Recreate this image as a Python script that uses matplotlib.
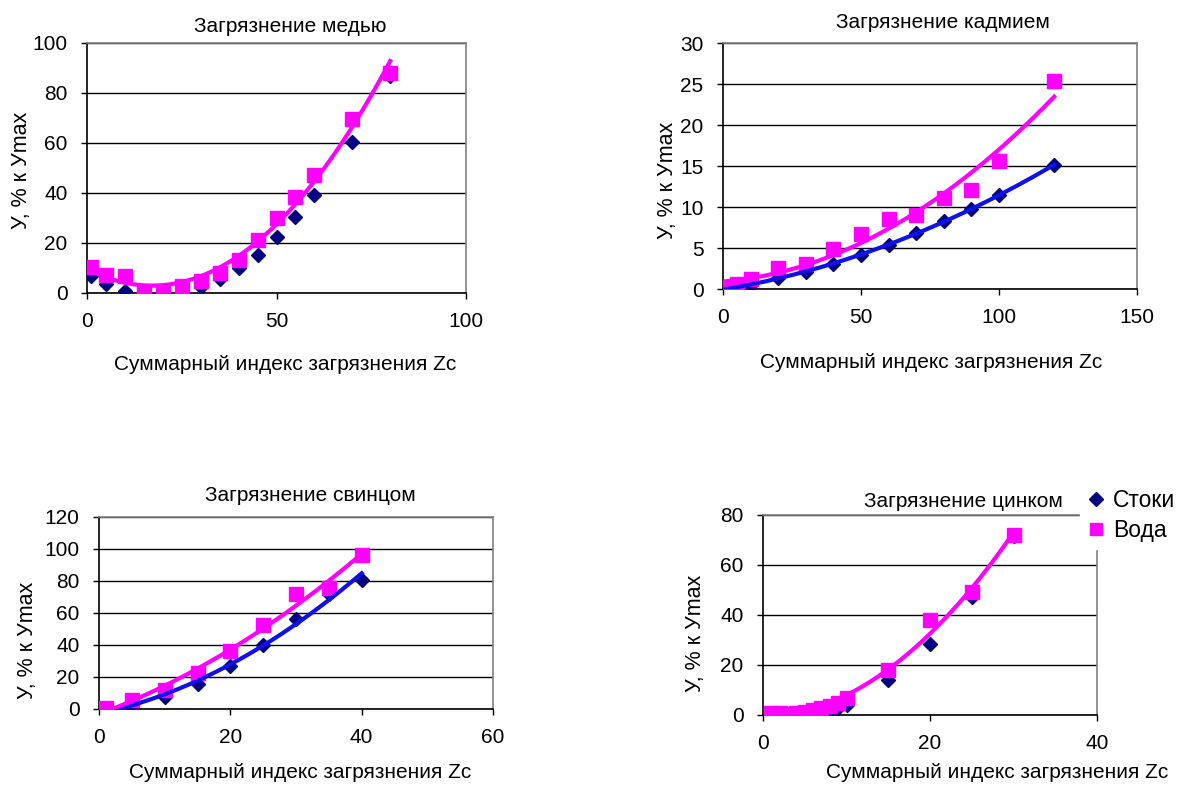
import matplotlib
matplotlib.use("Agg")
import matplotlib.pyplot as plt
import numpy as np

plt.rcParams['font.family'] = ['Liberation Sans', 'DejaVu Sans']

W, H = 1182, 787

# --- data ---
cu_x = [1, 5, 10, 15, 20, 25, 30, 35, 40, 45, 50, 55, 60, 70, 80]
cu_stoki = [7, 3.7, 1, 0.5, 0, 0.3, 2.4, 5.6, 10, 15.4, 22.3, 30.3, 39.2, 60.6, 86.7]
cu_voda = [10.6, 7.3, 6.9, 0.3, 0.7, 2.9, 4.9, 8.2, 13.3, 21.3, 29.9, 38.3, 47.2, 69.5, 88]

cd_x = [1, 5, 10, 20, 30, 40, 50, 60, 70, 80, 90, 100, 120]
cd_stoki = [0.2, 0.1, 0.45, 1.3, 2.1, 3.1, 4.2, 5.4, 6.8, 8.3, 9.7, 11.5, 15.1]
cd_voda = [0.2, 0.65, 1.2, 2.6, 3.1, 4.9, 6.7, 8.5, 9.0, 11.1, 12.1, 15.6, 25.4]

pb_x = [1, 5, 10, 15, 20, 25, 30, 35, 40]
pb_stoki = [0, 2, 7.5, 15.5, 26.8, 40.1, 56, 72, 80.7]
pb_voda = [0.4, 5.4, 11.7, 22.6, 36, 52.3, 71.9, 75.5, 96.4]

zn_x = [1, 2, 3, 4, 5, 6, 7, 8, 9, 10, 15, 20, 25, 30]
zn_stoki = [0.3, 0, 0, 0, 0.2, 0.8, 1.5, 2.2, 3, 4.2, 14, 28.3, 47.3, 71.7]
zn_voda = [1, 0.8, 0.5, 0.8, 1.2, 2, 3, 3.8, 5, 6.7, 18, 38, 49.3, 72]

titles = ['Загрязнение медью', 'Загрязнение кадмием',
          'Загрязнение свинцом', 'Загрязнение цинком']
series_names = ['Стоки', 'Вода']
xlabel = 'Суммарный индекс загрязнения Zc'
ylabel = 'У, % к Уmax'

panels = [
    dict(x=cu_x, s=cu_stoki, v=cu_voda, xt=[0, 50, 100], yt=[0, 20, 40, 60, 80, 100], blue_trend=False),
    dict(x=cd_x, s=cd_stoki, v=cd_voda, xt=[0, 50, 100, 150], yt=[0, 5, 10, 15, 20, 25, 30], blue_trend=True),
    dict(x=pb_x, s=pb_stoki, v=pb_voda, xt=[0, 20, 40, 60], yt=[0, 20, 40, 60, 80, 100, 120], blue_trend=True),
    dict(x=zn_x, s=zn_stoki, v=zn_voda, xt=[0, 20, 40], yt=[0, 20, 40, 60, 80], blue_trend=False),
]

# layout in pixels: axes box (left, top, right, bottom), title centre, xlabel centre, ylabel centre
boxes = [(87, 43, 466, 293), (723, 43, 1137, 289), (99, 517, 493, 709), (763, 515, 1097, 715)]
title_pos = [(290, 26), (943, 22), (310, 495), (963, 501)]
xlab_pos = [(285, 365), (931, 362), (300, 772), (997, 772)]
ylab_pos = [(22, 170), (667, 180), (28, 640), (695, 633)]

MAGENTA = '#FF00FF'
NAVY = '#000080'
BLUE = '#1010E8'

fig = plt.figure(figsize=(W / 100, H / 100), dpi=100)

for i, p in enumerate(panels):
    l, t, r, b = boxes[i]
    ax = fig.add_axes([l / W, 1 - b / H, (r - l) / W, (b - t) / H])
    x = np.array(p['x'], dtype=float)
    s = np.array(p['s'], dtype=float)
    v = np.array(p['v'], dtype=float)
    xx = np.linspace(x.min(), x.max(), 200)

    ax.plot(x, s, linestyle='none', marker='D', markersize=7.5, color=NAVY, zorder=3)
    ax.plot(x, v, linestyle='none', marker='s', markersize=9.5, color=MAGENTA, zorder=3)
    if p['blue_trend']:
        ax.plot(xx, np.polyval(np.polyfit(x, s, 2), xx), color=BLUE, lw=3, zorder=4)
    ax.plot(xx, np.polyval(np.polyfit(x, v, 2), xx), color=MAGENTA, lw=3, zorder=4)

    ax.set_xlim(p['xt'][0], p['xt'][-1])
    ax.set_ylim(p['yt'][0], p['yt'][-1])
    ax.set_xticks(p['xt'])
    ax.set_yticks(p['yt'])
    ax.tick_params(direction='out', length=4, width=1, labelsize=15, pad=10, color='black')
    ax.yaxis.grid(True, color='black', lw=1)
    ax.set_axisbelow(True)
    for side in ['left', 'bottom']:
        ax.spines[side].set_color('black')
        ax.spines[side].set_linewidth(1.2)
    for side in ['top', 'right']:
        ax.spines[side].set_color('#808080')
        ax.spines[side].set_linewidth(1.2)

    fig.text(title_pos[i][0] / W, 1 - title_pos[i][1] / H, titles[i],
             ha='center', va='center', fontsize=15)
    fig.text(xlab_pos[i][0] / W, 1 - xlab_pos[i][1] / H, xlabel,
             ha='center', va='center', fontsize=15)
    fig.text(ylab_pos[i][0] / W, 1 - ylab_pos[i][1] / H, ylabel,
             ha='center', va='center', fontsize=15.5, rotation=90)

    if i == 3:
        handles = [
            plt.Line2D([], [], linestyle='none', marker='D', markersize=7, color=NAVY),
            plt.Line2D([], [], linestyle='none', marker='s', markersize=9, color=MAGENTA),
        ]
        fig.legend(handles, series_names, loc='upper left',
                   bbox_to_anchor=(1080 / W, 1 - 482 / H),
                   fontsize=16.5, frameon=True, facecolor='white', edgecolor='white',
                   framealpha=1, handlelength=0.8, handletextpad=0.35,
                   borderpad=0.3, labelspacing=0.3, borderaxespad=0)

fig.savefig('out.png', dpi=100)
